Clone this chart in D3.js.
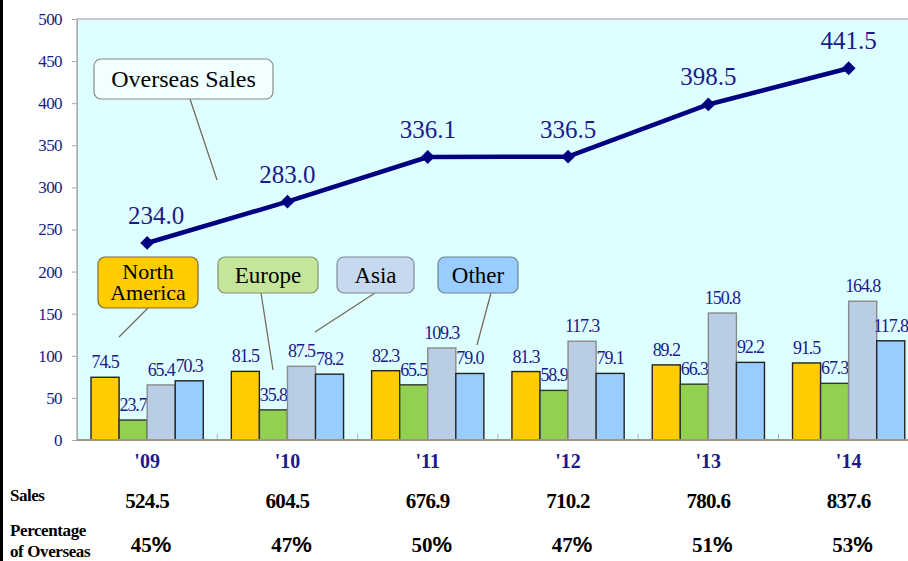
<!DOCTYPE html>
<html>

<head>
  <meta charset="utf-8" />
  <title>Overseas Sales</title>
  <style>
    body {
      margin: 0;
      background: #fff;
    }

    svg text {
      font-family: "Liberation Serif", "Times New Roman", serif;
    }
  </style>
  <script src="https://cdnjs.cloudflare.com/ajax/libs/d3/7.8.5/d3.min.js"></script>
</head>

<body>
  <div id="chartArea"></div>
  <script>
    // values
    var years = ["'09", "'10", "'11", "'12", "'13", "'14"];
    var northAmerica = [74.5, 81.5, 82.3, 81.3, 89.2, 91.5];
    var europe = [23.7, 35.8, 65.5, 58.9, 66.3, 67.3];
    var asia = [65.4, 87.5, 109.3, 117.3, 150.8, 164.8];
    var other = [70.3, 78.2, 79.0, 79.1, 92.2, 117.8];
    var overseasSales = [234.0, 283.0, 336.1, 336.5, 398.5, 441.5];
    var totalSales = [524.5, 604.5, 676.9, 710.2, 780.6, 837.6];
    var overseasPct = [45, 47, 50, 47, 51, 53];
    var yTicks = [0, 50, 100, 150, 200, 250, 300, 350, 400, 450, 500];
    var regionNames = ["North America", "Europe", "Asia", "Other"];

    var w = 908,
      h = 561;
    // note: "top" is reserved on window, so use plot* names
    var plotLeft = 77,
      plotTop = 19,
      plotBottom = 440,
      plotRight = 77 + 6 * 140.3;

    var seriesColor = ['#FFCC00', '#92D050', '#B9CDE5', '#99CCFF'];
    var seriesStroke = ['#222', '#333', '#8a8a8a', '#222'];
    var series = [northAmerica, europe, asia, other];

    var svg = d3.select('#chartArea').append('svg')
      .attr('width', w)
      .attr('height', h);

    // left black frame edge
    svg.append('rect').attr('x', 0).attr('y', 0).attr('width', 3).attr('height', h).attr('fill', '#000');

    var xScale = d3.scaleBand()
      .domain(years)
      .range([plotLeft, plotRight])
      .padding(0);

    var xInner = d3.scaleBand()
      .domain(d3.range(4))
      .range([0, xScale.bandwidth()])
      .paddingInner(0)
      .paddingOuter(0.5);

    var yScale = d3.scaleLinear()
      .domain([0, 500])
      .range([plotBottom, plotTop]);

    // plot area
    svg.append('rect')
      .attr('x', plotLeft).attr('y', plotTop)
      .attr('width', plotRight - plotLeft).attr('height', plotBottom - plotTop)
      .attr('fill', '#DEFFFF')
      .attr('stroke', '#a8a8a8')
      .attr('stroke-width', 1.2);

    // y axis
    var yAxis = d3.axisLeft(yScale).tickValues(yTicks).tickSize(5).tickPadding(10);
    var gy = svg.append('g').attr('transform', 'translate(' + plotLeft + ',0)').call(yAxis);
    gy.select('.domain').attr('stroke', '#a8a8a8');
    gy.selectAll('.tick line').attr('stroke', '#a8a8a8');
    gy.selectAll('.tick text')
      .attr('fill', '#1a1a80')
      .style('font-family', '"Liberation Serif", serif')
      .style('font-size', '17px')
      .attr('letter-spacing', '-0.6');

    // x axis: tick marks at group boundaries pointing inward
    var bounds = years.map(function (d) { return xScale(d); }).slice(1);
    svg.selectAll('.xtick')
      .data(bounds)
      .enter()
      .append('line')
      .attr('x1', d => d).attr('x2', d => d)
      .attr('y1', plotBottom).attr('y2', plotBottom - 6)
      .attr('stroke', '#b0b0b0');

    // bars
    series.forEach(function (vals, si) {
      var g = svg.append('g');
      g.selectAll('rect')
        .data(vals)
        .enter()
        .append('rect')
        .attr('x', (d, i) => xScale(years[i]) + xInner(si))
        .attr('y', d => yScale(d))
        .attr('width', xInner.bandwidth())
        .attr('height', d => plotBottom - yScale(d))
        .attr('fill', seriesColor[si])
        .attr('stroke', seriesStroke[si])
        .attr('stroke-width', 1.4);
      g.selectAll('text')
        .data(vals)
        .enter()
        .append('text')
        .attr('x', (d, i) => xScale(years[i]) + xInner(si) + xInner.bandwidth() / 2)
        .attr('y', d => yScale(d) - 9)
        .attr('text-anchor', 'middle')
        .attr('fill', '#1a1a8c')
        .attr('font-size', 18)
        .attr('letter-spacing', '-1.1')
        .text(d => d.toFixed(1));
    });

    // bottom axis line
    svg.append('line')
      .attr('x1', plotLeft).attr('x2', plotRight)
      .attr('y1', plotBottom).attr('y2', plotBottom)
      .attr('stroke', '#a09484').attr('stroke-width', 2);

    // overseas sales line
    var cx = d => xScale(d) + xScale.bandwidth() / 2;
    var line = d3.line()
      .x((d, i) => cx(years[i]))
      .y(d => yScale(d));

    svg.append('path')
      .datum(overseasSales)
      .attr('d', line)
      .attr('fill', 'none')
      .attr('stroke', '#000080')
      .attr('stroke-width', 4.5)
      .attr('stroke-linejoin', 'round');

    svg.selectAll('.marker')
      .data(overseasSales)
      .enter()
      .append('path')
      .attr('d', d3.symbol().type(d3.symbolSquare).size(95))
      .attr('transform', (d, i) => 'translate(' + cx(years[i]) + ',' + yScale(d) + ') rotate(45)')
      .attr('fill', '#000080');

    svg.selectAll('.lineLabel')
      .data(overseasSales)
      .enter()
      .append('text')
      .attr('x', (d, i) => cx(years[i]) + (i === 0 ? 9 : 0))
      .attr('y', d => yScale(d) - 19)
      .attr('text-anchor', 'middle')
      .attr('fill', '#1a1a8c')
      .attr('font-size', 25)
      .text(d => d.toFixed(1));

    // callouts
    var callouts = [
      { text: ['Overseas Sales'], x: 94, y: 59, w: 179, h: 40, fill: '#F2FFFF', stroke: '#8a8a8a', size: 24, from: [190, 99], to: [217, 180] },
      { text: ['North', 'America'], x: 98, y: 257, w: 100, h: 51, fill: '#FFCC00', stroke: '#7a6a40', size: 22, from: [148, 308], to: [119, 337] },
      { text: ['Europe'], x: 218, y: 257, w: 100, h: 36, fill: '#C4E59A', stroke: '#7f8f70', size: 23, from: [261, 293], to: [273, 370] },
      { text: ['Asia'], x: 337, y: 257, w: 77, h: 36, fill: '#C6D9EF', stroke: '#7f8a98', size: 23, from: [375, 293], to: [315, 332] },
      { text: ['Other'], x: 438, y: 257, w: 80, h: 36, fill: '#99CCFF', stroke: '#708090', size: 23, from: [491, 293], to: [477, 345] }
    ];

    callouts.forEach(function (c) {
      svg.append('line')
        .attr('x1', c.from[0]).attr('y1', c.from[1])
        .attr('x2', c.to[0]).attr('y2', c.to[1])
        .attr('stroke', '#7a6a5a').attr('stroke-width', 1.3);
      svg.append('rect')
        .attr('x', c.x).attr('y', c.y).attr('width', c.w).attr('height', c.h)
        .attr('rx', 7).attr('ry', 7)
        .attr('fill', c.fill).attr('stroke', c.stroke).attr('stroke-width', 1.2);
      var t = svg.append('text')
        .attr('text-anchor', 'middle')
        .attr('font-size', c.size)
        .attr('fill', '#000');
      var lh = 21;
      var y0 = c.y + c.h / 2 - (c.text.length - 1) * lh / 2 + c.size * 0.33;
      c.text.forEach(function (s, i) {
        t.append('tspan').attr('x', c.x + c.w / 2).attr('y', y0 + i * lh).text(s);
      });
    });

    // category labels
    svg.selectAll('.cat')
      .data(years)
      .enter()
      .append('text')
      .attr('x', d => cx(d))
      .attr('y', 468)
      .attr('text-anchor', 'middle')
      .attr('fill', '#1a1a8c')
      .attr('font-weight', 'bold')
      .attr('font-size', 20)
      .text(d => d);

    // table rows
    svg.append('text')
      .attr('x', 10).attr('y', 501)
      .attr('font-weight', 'bold').attr('font-size', 17)
      .attr('letter-spacing', '-0.5')
      .text('Sales');

    var pctLabel = svg.append('text')
      .attr('font-weight', 'bold').attr('font-size', 17)
      .attr('letter-spacing', '-0.4');
    pctLabel.append('tspan').attr('x', 10).attr('y', 536).text('Percentage');
    pctLabel.append('tspan').attr('x', 10).attr('y', 557).text('of  Overseas');

    svg.selectAll('.sales')
      .data(totalSales)
      .enter()
      .append('text')
      .attr('x', (d, i) => cx(years[i]))
      .attr('y', 508)
      .attr('text-anchor', 'middle')
      .attr('font-weight', 'bold')
      .attr('font-size', 21)
      .attr('letter-spacing', '-0.7')
      .text(d => d.toFixed(1));

    var pct = svg.selectAll('.pct')
      .data(overseasPct)
      .enter()
      .append('text')
      .attr('x', (d, i) => cx(years[i]) + 4)
      .attr('y', 552)
      .attr('text-anchor', 'middle')
      .attr('font-weight', 'bold')
      .attr('font-size', 21);
    pct.append('tspan').text(d => d);
    pct.append('tspan')
      .style('font-family', '"Liberation Sans", Arial, sans-serif')
      .attr('font-size', 22)
      .text('%');
  </script>
</body>

</html>
